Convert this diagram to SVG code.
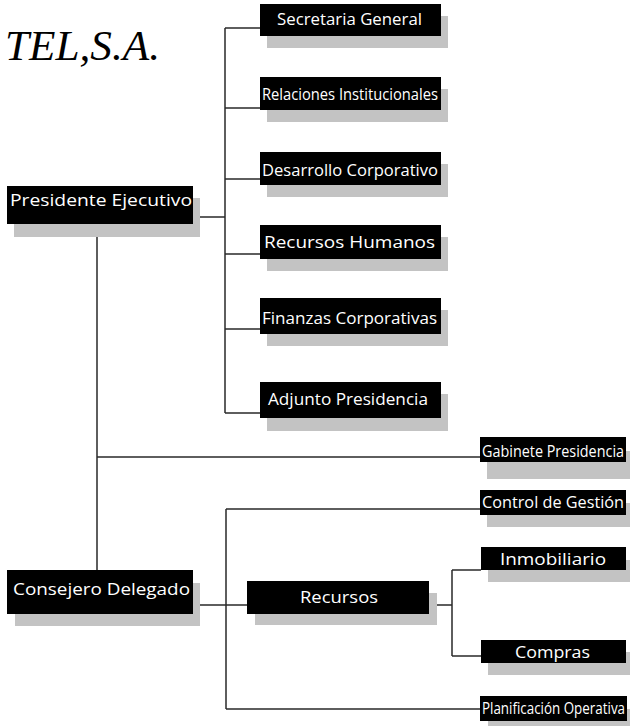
<svg xmlns="http://www.w3.org/2000/svg" width="630" height="726" viewBox="0 0 630 726">
<style>
.box{fill:#000}
.sh{fill:#c3c3c3}
.t{fill:#fff;font-family:"Open Sans","Noto Sans",sans-serif;font-size:17px}
.c{fill:none;stroke:#2a2a2a;stroke-width:1.5}
.title{font-family:"Liberation Serif","DejaVu Serif",serif;font-style:italic;font-size:42px;fill:#000}
</style>
<rect width="630" height="726" fill="#fff"/>
<text class="title" x="5" y="60" textLength="155" lengthAdjust="spacingAndGlyphs">TEL,S.A.</text>
<g id="connectors">
<path class="c" d="M193 217H225M225 28V413M225 28H260M225 108H260M225 179H260M225 254H260M225 329H260M225 413H260"/>
<path class="c" d="M97 224V570M97 457H480"/>
<path class="c" d="M193 605H247M226 509V709M226 509H480M226 709H480"/>
<path class="c" d="M429 605H452M452 570V656M452 570H481M452 656H481"/>
</g>
<g id="n-secretaria"><rect class="sh" x="267" y="16" width="181" height="32"/><rect class="box" x="260" y="4" width="181" height="32"/><text class="t" x="277" y="25" textLength="145" lengthAdjust="spacingAndGlyphs">Secretaria General</text></g>
<g id="n-relaciones"><rect class="sh" x="267" y="89" width="181" height="33"/><rect class="box" x="260" y="77" width="181" height="33"/><text class="t" x="262" y="100" font-size="20" textLength="176" lengthAdjust="spacingAndGlyphs">Relaciones Institucionales</text></g>
<g id="n-desarrollo"><rect class="sh" x="267" y="164" width="181" height="33"/><rect class="box" x="260" y="152" width="181" height="33"/><text class="t" x="262" y="176" textLength="176" lengthAdjust="spacingAndGlyphs">Desarrollo Corporativo</text></g>
<g id="n-rrhh"><rect class="sh" x="267" y="237" width="181" height="34"/><rect class="box" x="260" y="225" width="181" height="34"/><text class="t" x="264" y="248" textLength="171" lengthAdjust="spacingAndGlyphs">Recursos Humanos</text></g>
<g id="n-finanzas"><rect class="sh" x="267" y="310" width="181" height="36"/><rect class="box" x="260" y="298" width="181" height="36"/><text class="t" x="262" y="324" font-size="19" textLength="175" lengthAdjust="spacingAndGlyphs">Finanzas Corporativas</text></g>
<g id="n-adjunto"><rect class="sh" x="267" y="394" width="181" height="37"/><rect class="box" x="260" y="382" width="181" height="36"/><text class="t" x="268" y="405" textLength="160" lengthAdjust="spacingAndGlyphs">Adjunto Presidencia</text></g>
<g id="n-presidente"><rect class="sh" x="14" y="198" width="186" height="39"/><rect class="box" x="7" y="186" width="186" height="38"/><text class="t" x="10" y="206" font-size="18" textLength="182" lengthAdjust="spacingAndGlyphs">Presidente Ejecutivo</text></g>
<g id="n-gabinete"><rect class="sh" x="487" y="451" width="143" height="28"/><rect class="box" x="480" y="437" width="146" height="25"/><text class="t" x="482" y="457" font-size="17" textLength="142" lengthAdjust="spacingAndGlyphs">Gabinete Presidencia</text></g>
<g id="n-control"><rect class="sh" x="487" y="503" width="143" height="24"/><rect class="box" x="480" y="490" width="146" height="25"/><text class="t" x="482" y="508" font-size="17" textLength="142" lengthAdjust="spacingAndGlyphs">Control de Gestión</text></g>
<g id="n-consejero"><rect class="sh" x="15" y="583" width="185" height="43"/><rect class="box" x="7" y="570" width="186" height="44"/><text class="t" x="13" y="595" font-size="18" textLength="177" lengthAdjust="spacingAndGlyphs">Consejero Delegado</text></g>
<g id="n-recursos"><rect class="sh" x="255" y="593" width="182" height="32"/><rect class="box" x="247" y="581" width="182" height="33"/><text class="t" x="300" y="603" font-size="17.5" textLength="78" lengthAdjust="spacingAndGlyphs">Recursos</text></g>
<g id="n-inmobiliario"><rect class="sh" x="488" y="560" width="142" height="22"/><rect class="box" x="481" y="547" width="145" height="23"/><text class="t" x="500" y="565" font-size="16" textLength="106" lengthAdjust="spacingAndGlyphs">Inmobiliario</text></g>
<g id="n-compras"><rect class="sh" x="488" y="652" width="142" height="23"/><rect class="box" x="481" y="640" width="145" height="23"/><text class="t" x="515" y="658" font-size="16.5" textLength="75" lengthAdjust="spacingAndGlyphs">Compras</text></g>
<g id="n-planificacion"><rect class="sh" x="488" y="709" width="142" height="17"/><rect class="box" x="480" y="696" width="147" height="25"/><text class="t" x="482" y="714" font-size="17" textLength="143" lengthAdjust="spacingAndGlyphs">Planificación Operativa</text></g>
</svg>
